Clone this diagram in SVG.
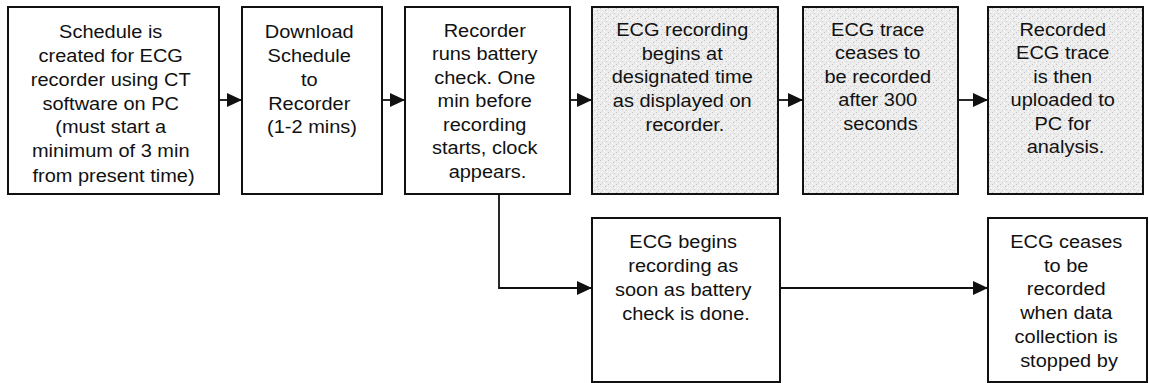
<svg xmlns="http://www.w3.org/2000/svg" width="1149" height="383" viewBox="0 0 1149 383">
  <style>
    .box { fill: #ffffff; stroke: #111111; stroke-width: 2; }
    .shaded { fill: url(#grain); stroke: #111111; stroke-width: 2; }
    .lbl { font-family: "Liberation Sans", Arial, sans-serif; font-size: 18.5px; fill: #111111; text-anchor: middle; }
    .wire { fill: none; stroke: #111111; stroke-width: 1.8; }
  </style>
  <defs>
    <!-- speckled light-grey fill for the timed-recording steps -->
    <pattern id="grain" width="8" height="8" patternUnits="userSpaceOnUse">
      <rect width="8" height="8" fill="#ececec"/>
      <rect x="0" y="0" width="1" height="1" fill="#c4c4c4"/>
      <rect x="3" y="1" width="1" height="1" fill="#ffffff"/>
      <rect x="5" y="2" width="1" height="1" fill="#bdbdbd"/>
      <rect x="1" y="4" width="1" height="1" fill="#ffffff"/>
      <rect x="6" y="5" width="1" height="1" fill="#c8c8c8"/>
      <rect x="2" y="6" width="1" height="1" fill="#d0d0d0"/>
      <rect x="4" y="7" width="1" height="1" fill="#ffffff"/>
      <rect x="7" y="3" width="1" height="1" fill="#ffffff"/>
    </pattern>
    <marker id="arrow" viewBox="0 0 15 14" refX="15" refY="7" markerWidth="15" markerHeight="14" markerUnits="userSpaceOnUse" orient="auto">
      <path d="M0,0 L15,7 L0,14 Z" fill="#111111"/>
    </marker>
  </defs>

  <g id="connectors">
    <line class="wire" x1="219" y1="100" x2="242" y2="100" marker-end="url(#arrow)"/>
    <line class="wire" x1="382" y1="100" x2="405" y2="100" marker-end="url(#arrow)"/>
    <line class="wire" x1="570" y1="100" x2="592" y2="100" marker-end="url(#arrow)"/>
    <line class="wire" x1="778" y1="100" x2="803" y2="100" marker-end="url(#arrow)"/>
    <line class="wire" x1="958" y1="100" x2="988" y2="100" marker-end="url(#arrow)"/>
    <polyline class="wire" points="499,194 499,288 592,288" marker-end="url(#arrow)"/>
    <line class="wire" x1="780" y1="288" x2="988" y2="288" marker-end="url(#arrow)"/>
  </g>

  <g id="create-schedule">
    <rect class="box" x="8" y="7" width="211" height="187"/>
    <text class="lbl" transform="translate(113.5,38) scale(1.08,1)">
      <tspan x="0" y="0">Schedule is</tspan>
      <tspan x="0" y="24">created for ECG</tspan>
      <tspan x="0" y="48">recorder using CT</tspan>
      <tspan x="0" y="72">software on PC</tspan>
      <tspan x="0" y="95.5">(must start a</tspan>
      <tspan x="0" y="119.5">minimum of 3 min</tspan>
      <tspan x="0" y="144">from present time)</tspan>
    </text>
  </g>

  <g id="download-schedule">
    <rect class="box" x="242" y="7" width="140" height="187"/>
    <text class="lbl" transform="translate(312,38) scale(1.08,1)">
      <tspan x="0" y="0">Download</tspan>
      <tspan x="0" y="24">Schedule</tspan>
      <tspan x="0" y="48">to</tspan>
      <tspan x="0" y="72">Recorder</tspan>
      <tspan x="0" y="95.5">(1-2 mins)</tspan>
    </text>
  </g>

  <g id="battery-check">
    <rect class="box" x="405" y="7" width="165" height="187"/>
    <text class="lbl" transform="translate(487.5,37) scale(1.08,1)">
      <tspan x="0" y="0">Recorder</tspan>
      <tspan x="0" y="23.5">runs battery</tspan>
      <tspan x="0" y="47">check. One</tspan>
      <tspan x="0" y="70.5">min before</tspan>
      <tspan x="0" y="94">recording</tspan>
      <tspan x="0" y="117.5">starts, clock</tspan>
      <tspan x="0" y="141">appears.</tspan>
    </text>
  </g>

  <g id="recording-begins">
    <rect class="shaded" x="592" y="7" width="186" height="187"/>
    <text class="lbl" transform="translate(685,36) scale(1.08,1)">
      <tspan x="0" y="0">ECG recording</tspan>
      <tspan x="0" y="23.75">begins at</tspan>
      <tspan x="0" y="47.5">designated time</tspan>
      <tspan x="0" y="71.25">as displayed on</tspan>
      <tspan x="0" y="95">recorder.</tspan>
    </text>
  </g>

  <g id="trace-ceases">
    <rect class="shaded" x="803" y="7" width="155" height="187"/>
    <text class="lbl" transform="translate(880.5,36) scale(1.08,1)">
      <tspan x="0" y="0">ECG trace</tspan>
      <tspan x="0" y="23.5">ceases to</tspan>
      <tspan x="0" y="47">be recorded</tspan>
      <tspan x="0" y="70.5">after 300</tspan>
      <tspan x="0" y="94">seconds</tspan>
    </text>
  </g>

  <g id="trace-uploaded">
    <rect class="shaded" x="988" y="7" width="155" height="187"/>
    <text class="lbl" transform="translate(1065.5,36) scale(1.08,1)">
      <tspan x="0" y="0">Recorded</tspan>
      <tspan x="0" y="23.5">ECG trace</tspan>
      <tspan x="0" y="47">is then</tspan>
      <tspan x="0" y="70.5">uploaded to</tspan>
      <tspan x="0" y="94">PC for</tspan>
      <tspan x="0" y="117.5">analysis.</tspan>
    </text>
  </g>

  <g id="immediate-recording">
    <rect class="box" x="592" y="218" width="188" height="164"/>
    <text class="lbl" transform="translate(686,248) scale(1.08,1)">
      <tspan x="0" y="0">ECG begins</tspan>
      <tspan x="0" y="24">recording as</tspan>
      <tspan x="0" y="48">soon as battery</tspan>
      <tspan x="0" y="72">check is done.</tspan>
    </text>
  </g>

  <g id="manual-stop">
    <rect class="box" x="988" y="218" width="159" height="164"/>
    <text class="lbl" transform="translate(1069,248) scale(1.08,1)">
      <tspan x="0" y="0">ECG ceases</tspan>
      <tspan x="0" y="24">to be</tspan>
      <tspan x="0" y="47.5">recorded</tspan>
      <tspan x="0" y="71">when data</tspan>
      <tspan x="0" y="95">collection is</tspan>
      <tspan x="0" y="119">stopped by</tspan>
    </text>
  </g>
</svg>
